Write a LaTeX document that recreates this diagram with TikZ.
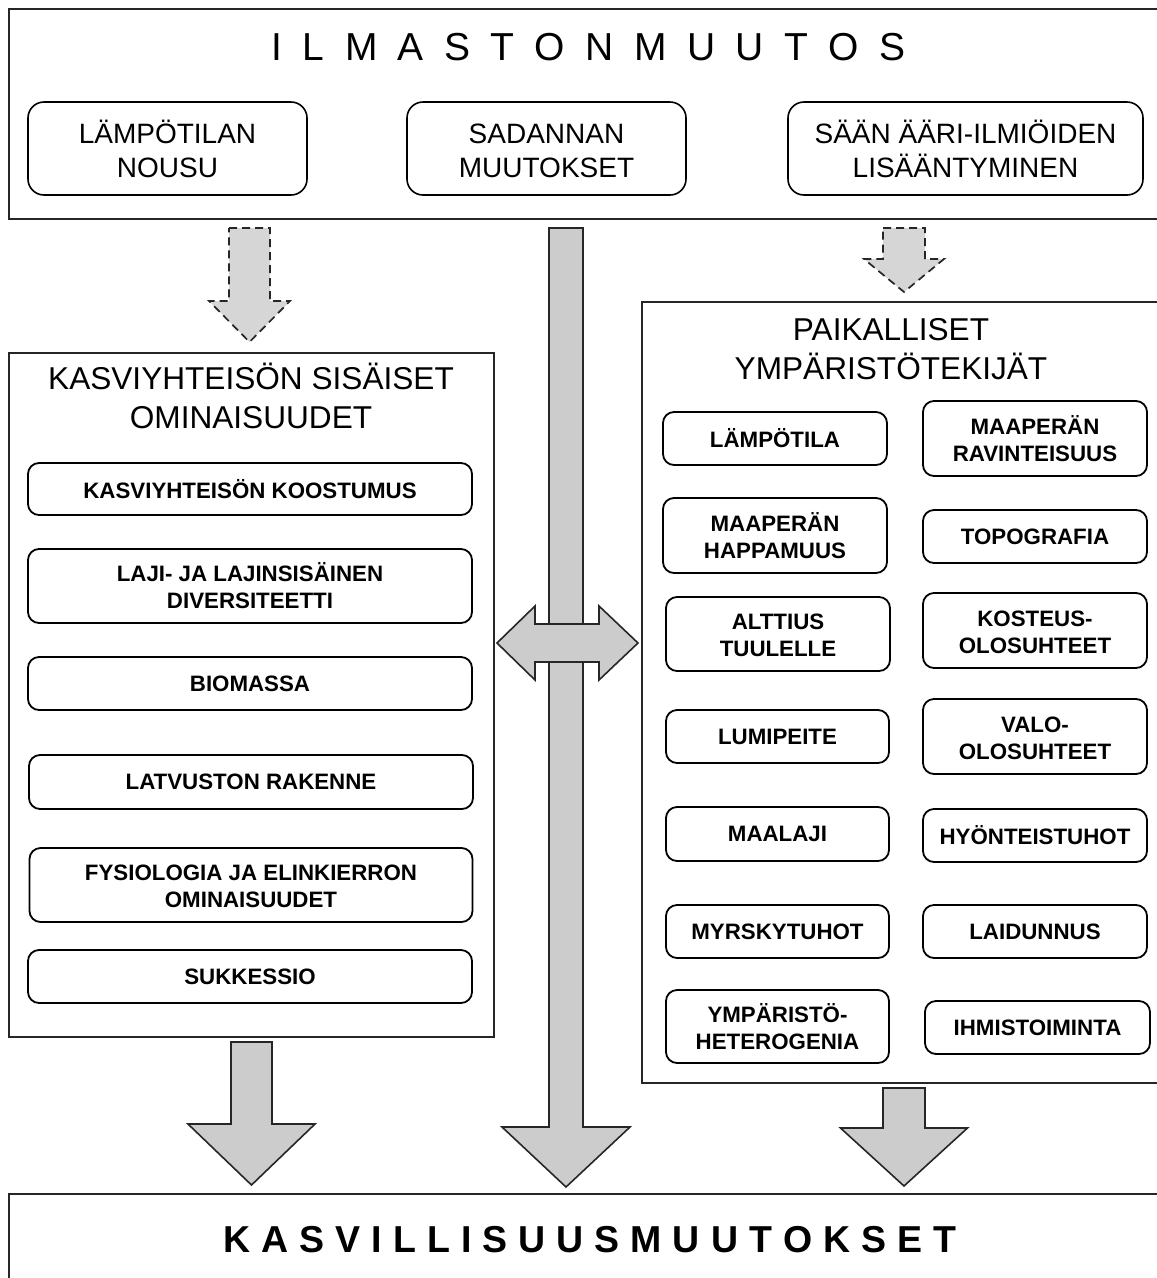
\documentclass[tikz,border=0pt]{standalone}
\usepackage{fontspec}
\setmainfont{Liberation Sans}
\newcommand\gapTop{\kern20.4pt}
\newcommand\gapBot{\kern11pt}
\newcommand\accfix{\vphantom{Ä}}
\begin{document}
\begin{tikzpicture}[x=1pt,y=-1pt,
  outerbox/.style={draw=black!85, line width=2pt, inner sep=0pt},
  rbox/.style={draw=black, line width=1.8pt, rounded corners=11pt, align=center, inner sep=0pt, font=\bfseries\fontsize{22.3}{27}\selectfont},
  tbox/.style={rbox, font=\fontsize{28}{34}\selectfont, line width=1.6pt, rounded corners=16pt},
  sectitle/.style={align=center, inner sep=0pt, font=\fontsize{31.6}{39}\selectfont},
  solidarrow/.style={draw=black!85, line width=1.6pt, fill=black!20, line join=miter},
  dasharrow/.style={draw=black!85, line width=1.7pt, fill=black!16, dash pattern=on 8pt off 5pt, line join=miter}]
\useasboundingbox (0,0) rectangle (1157,1278);
\fill[white] (0,0) rectangle (1157,1278);

% outer frames
\node[outerbox, anchor=north west, minimum width=1160pt, minimum height=210pt] (clim) at (8,8) {};
\node[outerbox, anchor=north west, minimum width=485pt, minimum height=684pt] (inner) at (8,352) {};
\node[outerbox, anchor=north west, minimum width=530pt, minimum height=781pt] (local) at (641,301) {};
\node[outerbox, anchor=north west, minimum width=1160pt, minimum height=100pt] (veg) at (8,1193) {};

% titles
\node[anchor=base, inner sep=0pt, font=\fontsize{39}{46}\selectfont] (climT) at (588.5,60)
  {I\gapTop L\gapTop M\gapTop A\gapTop S\gapTop T\gapTop O\gapTop N\gapTop M\gapTop U\gapTop U\gapTop T\gapTop O\gapTop S};
\node[anchor=base, inner sep=0pt, font=\bfseries\fontsize{37.5}{44}\selectfont] (vegT) at (590,1252)
  {K\gapBot A\gapBot S\gapBot V\gapBot I\gapBot L\gapBot L\gapBot I\gapBot S\gapBot U\gapBot U\gapBot S\gapBot M\gapBot U\gapBot U\gapBot T\gapBot O\gapBot K\gapBot S\gapBot E\gapBot T};
\node[sectitle] (innerT) at (251,396) {KASVIYHTEISÖN SISÄISET\\OMINAISUUDET};
\node[sectitle] (localT) at (891,349) {PAIKALLISET\\YMPÄRISTÖTEKIJÄT};

% climate boxes
\node[tbox, minimum width=279pt, minimum height=93pt] (t1) at (167.5,148.5) {LÄMPÖTILAN\\NOUSU};
\node[tbox, minimum width=279pt, minimum height=93pt] (t2) at (546.5,148.5) {\accfix SADANNAN\\MUUTOKSET};
\node[tbox, minimum width=355pt, minimum height=93pt] (t3) at (965.5,148.5) {SÄÄN ÄÄRI-ILMIÖIDEN\\LISÄÄNTYMINEN};

% inner community boxes
\node[rbox, minimum width=444pt, minimum height=52pt] (k1) at (250,489) {KASVIYHTEISÖN KOOSTUMUS};
\node[rbox, minimum width=444pt, minimum height=74pt] (k2) at (250,586) {LAJI- JA LAJINSISÄINEN\\DIVERSITEETTI};
\node[rbox, minimum width=444pt, minimum height=53pt] (k3) at (250,683.5) {BIOMASSA};
\node[rbox, minimum width=444pt, minimum height=54pt] (k4) at (251,782) {LATVUSTON RAKENNE};
\node[rbox, minimum width=443pt, minimum height=74pt] (k5) at (251,885) {\accfix FYSIOLOGIA JA ELINKIERRON\\OMINAISUUDET};
\node[rbox, minimum width=444pt, minimum height=53pt] (k6) at (250,976.5) {SUKKESSIO};

% local factor boxes
\node[rbox, minimum width=224pt, minimum height=53pt] (r1L) at (775,438.5) {LÄMPÖTILA};
\node[rbox, minimum width=224pt, minimum height=75pt] (r1R) at (1035,438.5) {MAAPERÄN\\RAVINTEISUUS};
\node[rbox, minimum width=224pt, minimum height=75pt] (r2L) at (775,535.5) {MAAPERÄN\\HAPPAMUUS};
\node[rbox, minimum width=224pt, minimum height=53pt] (r2R) at (1035,536.5) {TOPOGRAFIA};
\node[rbox, minimum width=224pt, minimum height=74pt] (r3L) at (778,634) {\accfix ALTTIUS\\TUULELLE};
\node[rbox, minimum width=224pt, minimum height=75pt] (r3R) at (1035,630.5) {\accfix KOSTEUS-\\OLOSUHTEET};
\node[rbox, minimum width=223pt, minimum height=53pt] (r4L) at (777.5,736.5) {LUMIPEITE};
\node[rbox, minimum width=224pt, minimum height=75pt] (r4R) at (1035,736.5) {\accfix VALO-\\OLOSUHTEET};
\node[rbox, minimum width=223pt, minimum height=54pt] (r5L) at (777.5,834) {MAALAJI};
\node[rbox, minimum width=224pt, minimum height=53pt] (r5R) at (1035,835.5) {HYÖNTEISTUHOT};
\node[rbox, minimum width=223pt, minimum height=53pt] (r6L) at (777.5,931.5) {MYRSKYTUHOT};
\node[rbox, minimum width=224pt, minimum height=53pt] (r6R) at (1035,931.5) {LAIDUNNUS};
\node[rbox, minimum width=223pt, minimum height=73pt] (r7L) at (777.5,1026.5) {YMPÄRISTÖ-\\HETEROGENIA};
\node[rbox, minimum width=225pt, minimum height=53pt] (r7R) at (1037.5,1027.5) {IHMISTOIMINTA};

% dashed block arrows (climate -> inner / local)
\draw[dasharrow] (229,228) -- (270,228) -- (270,301) -- (290,301) -- (249.5,342) -- (209,301) -- (229,301) -- cycle;
\draw[dasharrow] (883,228) -- (925,228) -- (925,259) -- (944,259) -- (904,292) -- (864,259) -- (883,259) -- cycle;

% long arrow climate -> vegetation
\draw[solidarrow] (549,228) -- (583,228) -- (583,1127) -- (630,1127) -- (566,1187) -- (502,1127) -- (549,1127) -- cycle;

% arrows to vegetation change
\draw[solidarrow] (231,1042) -- (272,1042) -- (272,1124) -- (315,1124) -- (251.5,1185) -- (188,1124) -- (231,1124) -- cycle;
\draw[solidarrow] (883,1088) -- (925,1088) -- (925,1128) -- (967.5,1128) -- (904,1186) -- (840.5,1128) -- (883,1128) -- cycle;

% double arrow inner <-> local
\draw[solidarrow] (497,643) -- (535,606) -- (535,624) -- (599,624) -- (599,606) -- (638,643)
  -- (599,680) -- (599,662) -- (535,662) -- (535,680) -- cycle;
\end{tikzpicture}
\end{document}
